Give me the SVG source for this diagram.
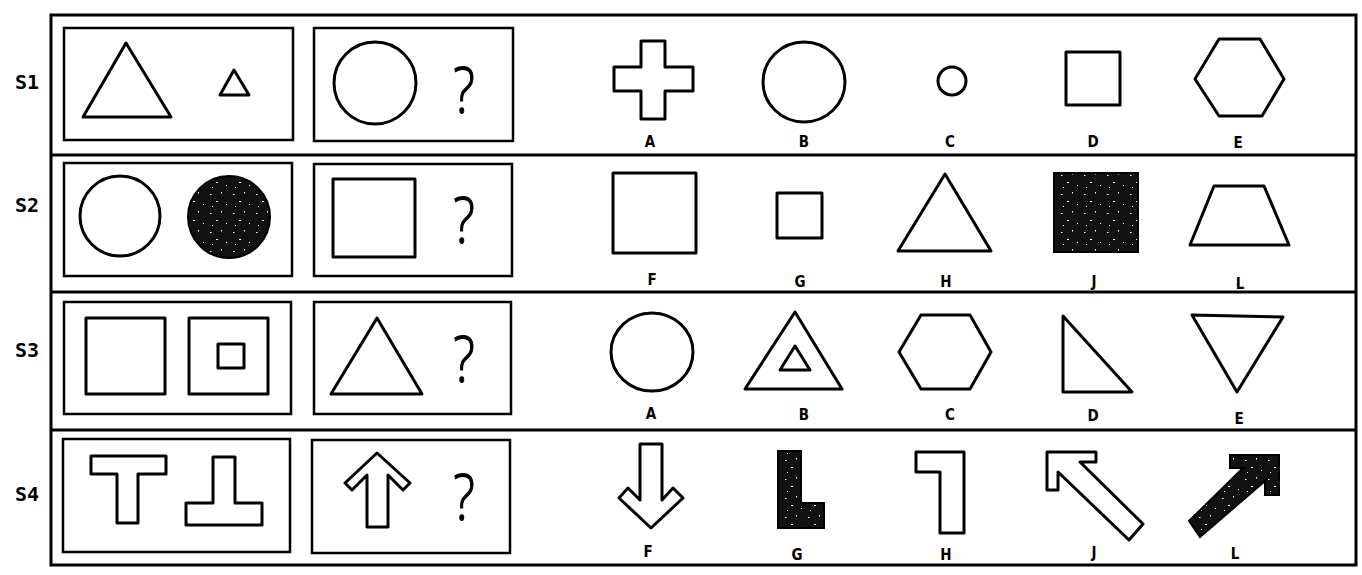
<svg xmlns="http://www.w3.org/2000/svg" width="1362" height="575" viewBox="0 0 1362 575">
<defs>
<pattern id="speck" width="23" height="19" patternUnits="userSpaceOnUse">
<rect width="23" height="19" fill="#111"/>
<rect x="3" y="4" width="1.5" height="1" fill="#fff"/>
<rect x="14" y="2" width="1" height="1.5" fill="#fff"/>
<rect x="9" y="11" width="2" height="1" fill="#fff"/>
<rect x="19" y="14" width="1" height="1" fill="#fff"/>
<rect x="5" y="16" width="1" height="1" fill="#fff"/>
</pattern>
<style>
.frame{fill:none;stroke:#000;stroke-width:3}
.box{fill:none;stroke:#000;stroke-width:2.5}
.sh{fill:none;stroke:#000;stroke-width:3;stroke-linejoin:round}
.fill{fill:url(#speck);stroke:#000;stroke-width:2}
.row{font-family:"DejaVu Sans Mono","Liberation Mono",monospace;font-weight:bold;font-size:20px;fill:#000}
.q{font-family:"Open Sans","Liberation Sans",Arial,sans-serif;font-weight:300;font-size:64px;fill:#000;stroke:#000;stroke-width:1.1;text-anchor:middle}
.lab{font-family:"DejaVu Sans Condensed","Liberation Sans",Arial,sans-serif;font-weight:bold;font-size:15px;fill:#000;text-anchor:middle}
</style>
</defs>
<rect width="1362" height="575" fill="#fff"/>

<g id="frame">
<rect class="frame" x="51" y="15" width="1305" height="550"/>
<line class="frame" x1="51" y1="155" x2="1356" y2="155"/>
<line class="frame" x1="51" y1="292" x2="1356" y2="292"/>
<line class="frame" x1="51" y1="430" x2="1356" y2="430"/>
</g>

<g id="row-labels">
<text class="row" x="15" y="89">S1</text>
<text class="row" x="15" y="212">S2</text>
<text class="row" x="15" y="357">S3</text>
<text class="row" x="15" y="501">S4</text>
</g>

<g id="s1">
<g id="s1-example">
<rect class="box" x="64" y="28" width="229" height="112"/>
<polygon class="sh" points="126,43 171,117 83,117"/>
<polygon class="sh" points="234,70 249,95 220,95"/>
</g>
<g id="s1-question">
<rect class="box" x="314" y="28" width="199" height="113"/>
<circle class="sh" cx="375" cy="83" r="41"/>
<text class="q" transform="translate(464,113) scale(0.8,1)">?</text>
</g>
<g id="s1-options">
<polygon class="sh" points="641,41 665,41 665,67 693,67 693,91 665,91 665,119 641,119 641,91 614,91 614,67 641,67"/>
<ellipse class="sh" cx="804" cy="82" rx="41" ry="40"/>
<circle class="sh" cx="952" cy="81" r="14"/>
<rect class="sh" x="1066" y="52" width="54" height="53"/>
<polygon class="sh" points="1219,39 1260,39 1284,79 1262,116 1219,116 1195,79"/>
<text class="lab" x="650" y="147">A</text>
<text class="lab" x="804" y="147">B</text>
<text class="lab" x="950" y="147">C</text>
<text class="lab" x="1093" y="147">D</text>
<text class="lab" x="1238" y="148">E</text>
</g>
</g>

<g id="s2">
<g id="s2-example">
<rect class="box" x="64" y="163" width="228" height="113"/>
<circle class="sh" cx="120" cy="216" r="40"/>
<circle class="fill" cx="229" cy="217" r="41"/>
</g>
<g id="s2-question">
<rect class="box" x="314" y="164" width="198" height="112"/>
<rect class="sh" x="333" y="179" width="82" height="78"/>
<text class="q" transform="translate(464,243) scale(0.8,1)">?</text>
</g>
<g id="s2-options">
<rect class="sh" x="613" y="173" width="83" height="80"/>
<rect class="sh" x="777" y="193" width="45" height="45"/>
<polygon class="sh" points="945,174 991,251 898,251"/>
<rect class="fill" x="1054" y="173" width="84" height="79"/>
<polygon class="sh" points="1214,186 1264,186 1289,245 1190,245"/>
<text class="lab" x="652" y="285">F</text>
<text class="lab" x="800" y="287">G</text>
<text class="lab" x="946" y="287">H</text>
<text class="lab" x="1094" y="287">J</text>
<text class="lab" x="1240" y="289">L</text>
</g>
</g>

<g id="s3">
<g id="s3-example">
<rect class="box" x="64" y="302" width="227" height="112"/>
<rect class="sh" x="86" y="318" width="79" height="76"/>
<rect class="sh" x="189" y="318" width="79" height="76"/>
<rect class="sh" x="218" y="344" width="26" height="24"/>
</g>
<g id="s3-question">
<rect class="box" x="314" y="302" width="197" height="112"/>
<polygon class="sh" points="377,318 422,394 331,394"/>
<text class="q" transform="translate(464,382) scale(0.8,1)">?</text>
</g>
<g id="s3-options">
<ellipse class="sh" cx="652" cy="352" rx="41" ry="39"/>
<polygon class="sh" points="795,312 842,389 745,389"/>
<polygon class="sh" points="795,346 810,370 780,370"/>
<polygon class="sh" points="921,315 970,315 991,352 970,389 921,389 899,352"/>
<polygon class="sh" points="1063,316 1132,392 1063,392"/>
<polygon class="sh" points="1192,315 1283,317 1237,392"/>
<text class="lab" x="651" y="419">A</text>
<text class="lab" x="804" y="420">B</text>
<text class="lab" x="950" y="420">C</text>
<text class="lab" x="1093" y="421">D</text>
<text class="lab" x="1239" y="424">E</text>
</g>
</g>

<g id="s4">
<g id="s4-example">
<rect class="box" x="63" y="439" width="227" height="113"/>
<polygon class="sh" points="91,456 166,456 166,474 138,474 138,523 117,523 117,474 91,474"/>
<polygon class="sh" points="213,457 235,457 235,503 262,503 262,525 186,525 186,503 213,503"/>
</g>
<g id="s4-question">
<rect class="box" x="312" y="440" width="198" height="113"/>
<polygon class="sh" points="377,453 410,483 403,490 388,475 388,527 367,527 367,475 352,490 345,483"/>
<text class="q" transform="translate(464,520) scale(0.8,1)">?</text>
</g>
<g id="s4-options">
<polygon class="sh" points="640,444 662,444 662,500 673,488 683,498 651,528 619,498 628,488 640,500"/>
<polygon class="fill" points="778,451 801,451 801,503 824,503 824,528 778,528"/>
<polygon class="sh" points="916,452 964,452 964,533 940,533 940,472 916,472"/>
<polygon class="sh" points="1047,452 1096,452 1096,462 1080,462 1143,524 1129,540 1058,472 1058,490 1047,490"/>
<polygon class="fill" points="1230,455 1279,455 1279,495 1265,495 1265,481 1200,537 1189,521 1243,468 1230,468"/>
<text class="lab" x="648" y="557">F</text>
<text class="lab" x="797" y="560">G</text>
<text class="lab" x="946" y="560">H</text>
<text class="lab" x="1094" y="558">J</text>
<text class="lab" x="1235" y="559">L</text>
</g>
</g>

<g id="connectors"/>
</svg>
